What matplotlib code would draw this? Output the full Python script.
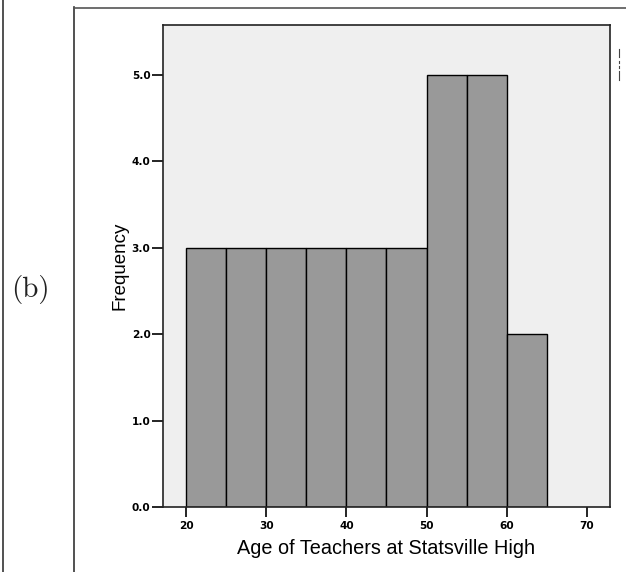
import matplotlib.pyplot as plt
import numpy as np
from matplotlib.lines import Line2D

# histogram of teacher ages (bin edges of width 5)
bin_left = [20, 25, 30, 35, 40, 45, 50, 55, 60]
counts = [3, 3, 3, 3, 3, 3, 5, 5, 2]
bin_width = 5
xticks = [20, 30, 40, 50, 60, 70]
yticks = [0.0, 1.0, 2.0, 3.0, 4.0, 5.0]

W, H = 626, 572
fig = plt.figure(figsize=(W / 100, H / 100), dpi=100)
fig.patch.set_facecolor('white')

# outer frame lines
fig.add_artist(Line2D([2.5 / W, 2.5 / W], [0, 1], color='#333333', lw=1.2))
fig.add_artist(Line2D([73.5 / W, 73.5 / W], [0, 1 - 7 / H], color='#333333', lw=1.2))
fig.add_artist(Line2D([73.5 / W, 1], [1 - 7.5 / H, 1 - 7.5 / H], color='#555555', lw=1.2))
# clipped marks on the right edge
fig.add_artist(Line2D([618.5 / W] * 2, [1 - 49 / H, 1 - 57 / H], color='#444444', lw=0.8))
fig.add_artist(Line2D([618.5 / W] * 2, [1 - 61 / H, 1 - 63 / H], color='#444444', lw=0.8))
fig.add_artist(Line2D([618.5 / W] * 2, [1 - 66 / H, 1 - 68 / H], color='#444444', lw=0.8))
fig.add_artist(Line2D([618.5 / W] * 2, [1 - 71 / H, 1 - 80 / H], color='#444444', lw=0.8))

fig.text(30.5 / W, 1 - 289 / H, '(b)', family='cmr10', fontsize=21,
         ha='center', va='center', color='#222222')

ax = fig.add_axes([163 / W, 1 - 507 / H, (610 - 163) / W, (507 - 25) / H])
ax.set_facecolor('#efefef')
ax.bar(bin_left, counts, width=bin_width, align='edge', color='#999999',
       edgecolor='black', linewidth=1.0)

ax.set_xlim(17.13, 72.87)
ax.set_ylim(0, 5.58)
ax.set_xticks(xticks)
ax.set_yticks(yticks)
ax.set_xticklabels([str(t) for t in xticks])
ax.set_yticklabels(['%.1f' % t for t in yticks])
for lab in ax.get_xticklabels() + ax.get_yticklabels():
    lab.set_fontweight('bold')
    lab.set_fontsize(7.6)
ax.tick_params(axis='y', direction='out', length=8, width=1.2, color='black', pad=1)
ax.tick_params(axis='x', direction='out', length=7, width=1.2, color='black', pad=3)
for s in ax.spines.values():
    s.set_linewidth(1.2)
    s.set_color('#222222')

ax.set_xlabel('Age of Teachers at Statsville High', family='Liberation Sans',
              fontsize=14.3, labelpad=6)
ax.set_ylabel('Frequency', family='Liberation Sans', fontsize=13.5, labelpad=2)

fig.savefig('out.png', dpi=100)
